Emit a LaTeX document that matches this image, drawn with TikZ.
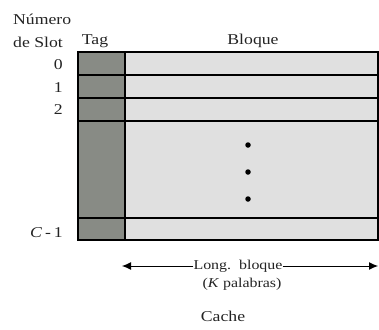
\documentclass[tikz,border=0pt]{standalone}
\usepackage{fontspec}
\setmainfont{Liberation Serif}
\usetikzlibrary{arrows.meta}
\definecolor{tagfill}{RGB}{136,139,133}
\definecolor{blockfill}{RGB}{224,224,224}
\definecolor{ink}{RGB}{35,35,35}
\newcommand{\wide}[1]{\scalebox{1.18}[1]{#1}}
\tikzset{
  lbl/.style={inner sep=0pt, text=ink, font=\fontsize{15}{17}\selectfont},
  small/.style={inner sep=0pt, text=ink, font=\fontsize{13.5}{15}\selectfont},
  grid/.style={draw=black, line width=1.3pt},
  dot/.style={circle, fill=black, inner sep=0pt, minimum size=5.5pt},
  dim/.style={draw=black, line width=1pt}
}
\begin{document}
\begin{tikzpicture}[x=1pt, y=-1pt]
\useasboundingbox (0,0) rectangle (379,329);
% column fills
\fill[tagfill] (78,52) rectangle (125,240);
\fill[blockfill] (125,52) rectangle (378,240);
% outline, column divider and slot lines
\draw[grid] (78,52) rectangle (378,240);
\draw[grid] (125,52) -- (125,240);
\foreach \y in {75,98,121,218} \draw[grid] (78,\y) -- (378,\y);
% headings
\node[lbl, anchor=base west] (num) at (13,25) {\wide{Número}};
\node[lbl, anchor=base west] (slot) at (13,47) {\wide{de Slot}};
\node[lbl, anchor=base] (tag) at (95,45) {\wide{Tag}};
\node[lbl, anchor=base] (bloque) at (253,45) {\wide{Bloque}};
% slot numbers
\node[lbl, anchor=base east] (s0) at (63,69) {\wide{0}};
\node[lbl, anchor=base east] (s1) at (63,92) {\wide{1}};
\node[lbl, anchor=base east] (s2) at (63,114) {\wide{2}};
\node[lbl, anchor=base east] (sc) at (63,237) {\wide{\textit{C}\,-\,1}};
% ellipsis dots
\node[dot] (d1) at (248,145) {};
\node[dot] (d2) at (248,172) {};
\node[dot] (d3) at (248,199) {};
% block length dimension
\coordinate (arrL) at (122,266);
\coordinate (arrR) at (378,266);
\node[small, anchor=base] (lb) at (238,269) {\wide{Long.\ \ bloque}};
\node[small, anchor=base] (kp) at (242,287) {\wide{(\textit{K} palabras)}};
\draw[dim, -{Latex[length=9pt,width=8pt]}] (lb.west |- arrL) -- (arrL);
\draw[dim, -{Latex[length=9pt,width=8pt]}] (lb.east |- arrR) -- (arrR);
% caption
\node[lbl, anchor=base] (cache) at (223,321) {\wide{Cache}};
\end{tikzpicture}
\end{document}
